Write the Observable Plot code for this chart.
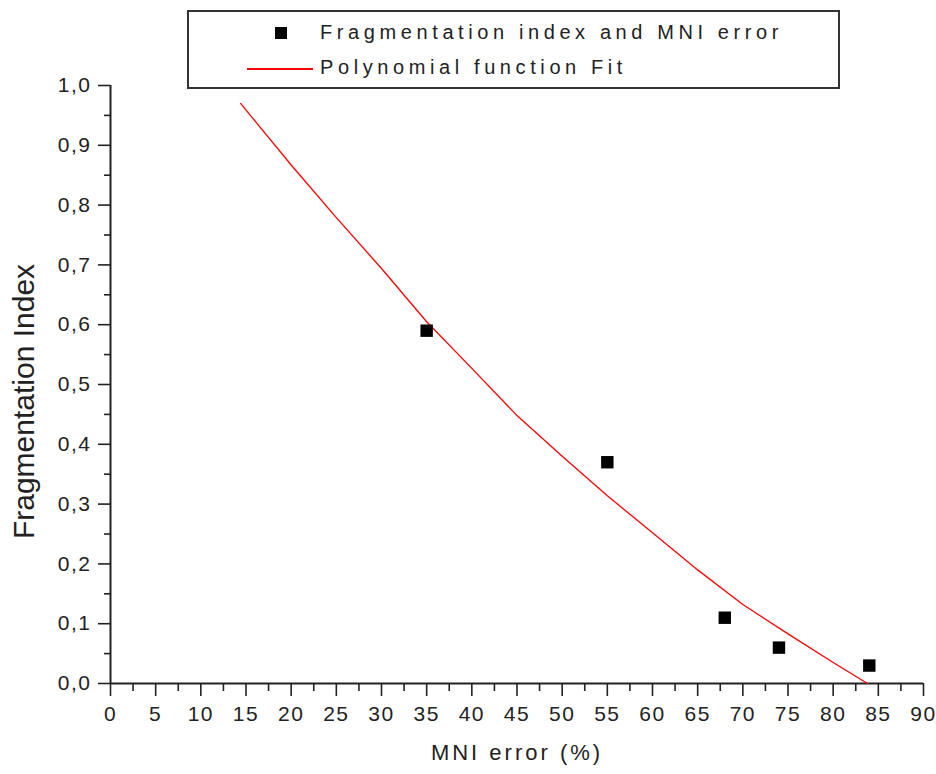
<!DOCTYPE html>
<html>
<head>
<meta charset="utf-8">
<script src="https://cdn.jsdelivr.net/npm/d3@7"></script>
<script src="https://cdn.jsdelivr.net/npm/@observablehq/plot@0.6"></script>
<style>
  html, body { margin: 0; padding: 0; background: #fff; }
  #wrap { position: relative; width: 936px; height: 774px; font-family: "Liberation Sans", Arial, sans-serif; color: #222; }
  #legend { position: absolute; left: 187px; top: 10px; width: 649px; height: 75px; border: 2px solid #333; background: #fff; }
  .lg-row { position: absolute; left: 0; font-size: 20px; letter-spacing: 4.6px; white-space: nowrap; }
  .lg-sq { position: absolute; width: 12px; height: 12px; background: #000; }
  .lg-line { position: absolute; height: 2px; background: #ff0000; }
</style>
</head>
<body>
<div id="wrap">
  <div id="chart"></div>
  <div id="legend"></div>
</div>
<script>
// ---- data ----
const mniError = [35, 55, 68, 74, 84];
const fragIndex = [0.59, 0.37, 0.11, 0.06, 0.03];

const fitX = [14.4, 20, 25, 30, 35, 40, 45, 50, 55, 60, 65, 70, 75, 80, 83.8];
const fitY = [0.97, 0.867, 0.779, 0.694, 0.605, 0.527, 0.448, 0.38, 0.314, 0.252, 0.19, 0.132, 0.083, 0.035, 0.0];

const xTicks = [0, 5, 10, 15, 20, 25, 30, 35, 40, 45, 50, 55, 60, 65, 70, 75, 80, 85, 90];
const xMinor = [2.5, 7.5, 12.5, 17.5, 22.5, 27.5, 32.5, 37.5, 42.5, 47.5, 52.5, 57.5, 62.5, 67.5, 72.5, 77.5, 82.5, 87.5];
const yTicks = [0, 0.1, 0.2, 0.3, 0.4, 0.5, 0.6, 0.7, 0.8, 0.9, 1.0];
const yTickLabels = ["0,0", "0,1", "0,2", "0,3", "0,4", "0,5", "0,6", "0,7", "0,8", "0,9", "1,0"];
const yMinor = [0.05, 0.15, 0.25, 0.35, 0.45, 0.55, 0.65, 0.75, 0.85, 0.95];

const xTitle = "MNI error (%)";
const yTitle = "Fragmentation Index";
const seriesPoints = "Fragmentation index and MNI error";
const seriesFit = "Polynomial function Fit";

// ---- build ----
const points = mniError.map((x, i) => ({x, y: fragIndex[i]}));
const fit = fitX.map((x, i) => ({x, y: fitY[i]}));
const ink = "#222";

const chart = Plot.plot({
  width: 936,
  height: 774,
  marginLeft: 110,
  marginRight: 13,
  marginTop: 85,
  marginBottom: 91,
  style: {fontFamily: '"Liberation Sans", Arial, sans-serif', color: ink, background: "#fff"},
  x: {domain: [0, 90]},
  y: {domain: [0, 1]},
  marks: [
    Plot.axisX({ticks: xMinor, tickSize: 8, strokeWidth: 1.6, stroke: ink, tickFormat: () => "", label: null}),
    Plot.axisX({ticks: xTicks, tickSize: 13, tickPadding: 10, strokeWidth: 1.6, stroke: ink, fill: ink,
      tickFormat: d => String(d), fontSize: 21, label: null}),
    Plot.axisY({ticks: yMinor, tickSize: 6, strokeWidth: 1.6, stroke: ink, tickFormat: () => "", label: null}),
    Plot.axisY({ticks: yTicks, tickSize: 12, tickPadding: 7, strokeWidth: 1.6, stroke: ink, fill: ink,
      tickFormat: d => yTickLabels[yTicks.indexOf(d)], fontSize: 21, label: null}),
    Plot.ruleY([0], {stroke: ink, strokeWidth: 2}),
    Plot.ruleX([0], {stroke: ink, strokeWidth: 2}),
    Plot.line(fit, {x: "x", y: "y", stroke: "#ff0000", strokeWidth: 1.3}),
    Plot.dot(points, {x: "x", y: "y", symbol: "square", r: 7, fill: "#000", stroke: "none"}),
    Plot.text([xTitle], {frameAnchor: "bottom", dy: 76, fontSize: 22, fill: ink}),
    Plot.text([yTitle], {frameAnchor: "left", textAnchor: "middle", rotate: -90, dx: -86, dy: 17, fontSize: 30, fill: ink})
  ]
});

document.getElementById("chart").appendChild(chart);

// letter spacing to mimic the original rendering
d3.select(chart).selectAll("g[aria-label='x-axis tick label'] text, g[aria-label='y-axis tick label'] text")
  .style("letter-spacing", "1.5px");
d3.select(chart).selectAll("g[aria-label='text'] text").filter(function() { return this.textContent === xTitle; })
  .style("letter-spacing", "3px");

// legend
const legend = document.getElementById("legend");
const rows = [
  {label: seriesPoints, kind: "square", top: 9},
  {label: seriesFit, kind: "line", top: 44}
];
rows.forEach(r => {
  const t = document.createElement("div");
  t.className = "lg-row";
  t.style.left = "131px";
  t.style.top = r.top + "px";
  t.textContent = r.label;
  legend.appendChild(t);
  if (r.kind === "square") {
    const s = document.createElement("div");
    s.className = "lg-sq";
    s.style.left = "86px";
    s.style.top = (r.top + 6) + "px";
    legend.appendChild(s);
  } else {
    const l = document.createElement("div");
    l.className = "lg-line";
    l.style.left = "58px";
    l.style.width = "66px";
    l.style.top = (r.top + 12) + "px";
    legend.appendChild(l);
  }
});
</script>
</body>
</html>
